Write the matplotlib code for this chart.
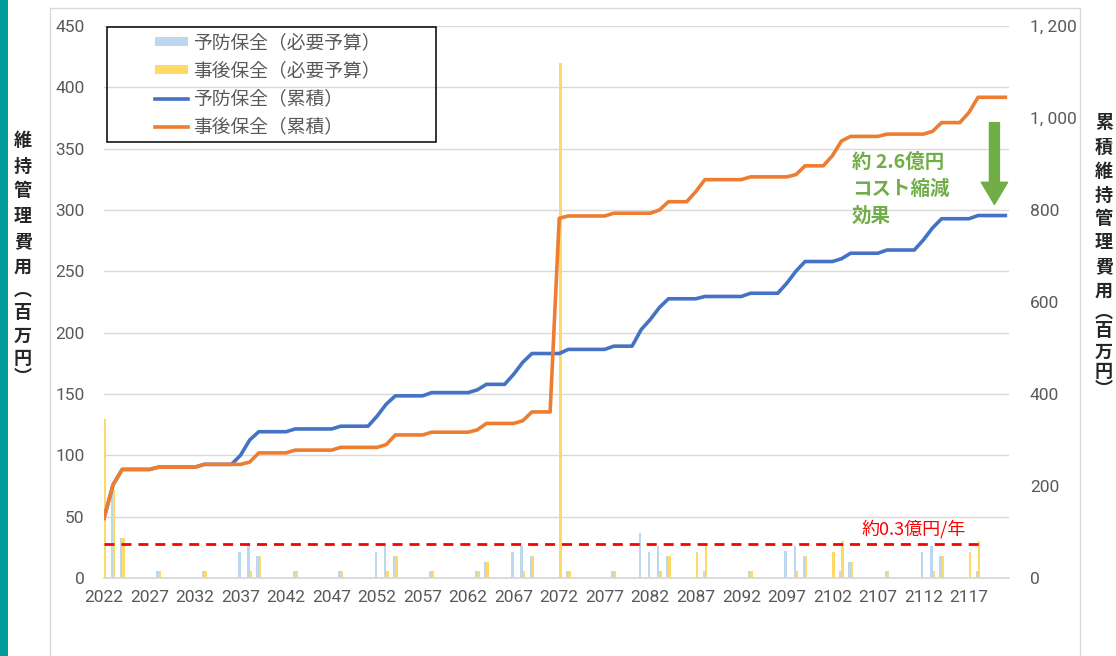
import matplotlib
matplotlib.use('Agg')
import matplotlib.pyplot as plt
from matplotlib.patches import Rectangle, Patch
from matplotlib.lines import Line2D
import numpy as np

plt.rcParams['font.family'] = ['Noto Sans CJK JP', 'DejaVu Sans']

# ---------------- data ----------------
years = list(range(2022, 2122))

# annual required budget (left axis, 百万円)
prev_bar_years = [2022, 2023, 2024, 2028, 2033, 2037, 2038, 2039, 2043, 2048, 2052, 2053, 2054,
                  2058, 2063, 2064, 2067, 2068, 2069, 2073, 2078, 2081, 2082, 2083, 2084, 2088,
                  2093, 2097, 2098, 2099, 2103, 2104, 2108, 2112, 2113, 2114, 2118]
prev_bar_vals = [130, 72, 33, 6, 6, 21.5, 26, 18, 6, 6, 21.5, 26, 18,
                 6, 6, 13, 21.5, 26, 18, 6, 6, 36.5, 21.5, 26, 18, 6,
                 6, 22, 26, 18, 6, 13, 6, 21.5, 26, 18, 6]
corr_bar_years = [2022, 2023, 2024, 2028, 2033, 2038, 2039, 2043, 2048, 2053, 2054, 2058, 2063,
                  2064, 2068, 2069, 2072, 2073, 2078, 2083, 2084, 2087, 2088, 2093, 2098, 2099,
                  2102, 2103, 2104, 2108, 2113, 2114, 2117, 2118]
corr_bar_vals = [130, 72, 33, 6, 6, 6, 18, 6, 6, 6, 18, 6, 6,
                 13, 6, 18, 420, 6, 6, 6, 18, 21, 26, 6, 6, 18,
                 21, 30, 13, 6, 6, 18, 21, 30]

# cumulative cost (right axis, 百万円)
prev_cum = [130, 203, 236, 236, 236, 236, 241, 241, 241, 241,   # 2022-2031
            241, 247, 247, 247, 247, 267, 300, 318, 318, 318,   # 2032-2041
            318, 324, 324, 324, 324, 324, 330, 330, 330, 330,   # 2042-2051
            352, 378, 396, 396, 396, 396, 403, 403, 403, 403,   # 2052-2061
            403, 409, 421, 421, 421, 443, 469, 488, 488, 488,   # 2062-2071
            488, 497, 497, 497, 497, 497, 504, 504, 504, 540,   # 2072-2081
            562, 588, 607, 607, 607, 607, 612, 612, 612, 612,   # 2082-2091
            612, 619, 619, 619, 619, 641, 667, 688, 688, 688,   # 2092-2101
            688, 694, 706, 706, 706, 706, 713, 713, 713, 713,   # 2102-2111
            735, 761, 781, 781, 781, 781, 788, 788, 788, 788]   # 2112-2121
corr_cum = [130, 203, 236, 236, 236, 236, 241, 241, 241, 241,   # 2022-2031
            241, 247, 247, 247, 247, 247, 252, 272, 272, 272,   # 2032-2041
            272, 278, 278, 278, 278, 278, 284, 284, 284, 284,   # 2042-2051
            284, 290, 311, 311, 311, 311, 317, 317, 317, 317,   # 2052-2061
            317, 322, 336, 336, 336, 336, 342, 361, 361, 361,   # 2062-2071
            782, 787, 787, 787, 787, 787, 793, 793, 793, 793,   # 2072-2081
            793, 800, 818, 818, 818, 840, 866, 866, 866, 866,   # 2082-2091
            866, 872, 872, 872, 872, 872, 877, 896, 896, 896,   # 2092-2101
            918, 950, 960, 960, 960, 960, 965, 965, 965, 965,   # 2102-2111
            965, 971, 990, 990, 990, 1012, 1045, 1045, 1045, 1045]  # 2112-2121

avg_level = 27.5          # 約0.3億円/年
avg_span = (2022, 2118.6)

left_ticks = list(range(0, 451, 50))
right_ticks = list(range(0, 1201, 200))
right_tick_labels = ['0', '200', '400', '600', '800', '1, 000', '1, 200']
x_ticks = list(range(2022, 2118, 5))

legend_labels = ['予防保全（必要予算）', '事後保全（必要予算）', '予防保全（累積）', '事後保全（累積）']

# ---------------- style ----------------
C_PREV_BAR = '#BDD7EE'
C_CORR_BAR = '#FFD966'
C_PREV_LINE = '#4472C4'
C_CORR_LINE = '#ED7D31'
C_GREEN = '#70AD47'
C_TICK = '#595959'
C_GRID = '#D9D9D9'

W, H = 1116, 656
fig = plt.figure(figsize=(W / 100, H / 100), dpi=100)

def fx(px):
    return px / W

def fy(py):
    return 1 - py / H

# teal strip and outer chart frame
fig.add_artist(Rectangle((0, 0), fx(8), 1, transform=fig.transFigure,
                         facecolor='#009A9A', edgecolor='none', zorder=-5))
fig.add_artist(Rectangle((fx(50), fy(700)), fx(1030), fy(8) - fy(700), transform=fig.transFigure,
                         facecolor='none', edgecolor=C_GRID, lw=1, zorder=-4))

L, R, T, B = 104, 1009, 26, 578
ax = fig.add_axes([fx(L), fy(B), fx(R - L), fy(T) - fy(B)])
ax.set_facecolor('none')

bw = 0.26
ax.bar(np.array(prev_bar_years) - bw / 2, prev_bar_vals, width=bw, color=C_PREV_BAR, zorder=2)
ax.bar(np.array(corr_bar_years) + bw / 2, corr_bar_vals, width=bw, color=C_CORR_BAR, zorder=2)
ax.plot(avg_span, [avg_level, avg_level], color='#FF0000', lw=2,
        linestyle=(0, (3.6, 2.5)), zorder=3)

ax.set_xlim(2022, 2121.4)
ax.set_ylim(0, 450)
ax.set_yticks(left_ticks)
ax.set_xticks(x_ticks)
ax.set_xticklabels([str(y) for y in x_ticks])
ax.grid(axis='y', color=C_GRID, lw=1, zorder=0)
ax.set_axisbelow(True)
for s in ['top', 'right', 'left']:
    ax.spines[s].set_visible(False)
ax.spines['bottom'].set_color(C_GRID)
ax.spines['bottom'].set_linewidth(1.3)
ax.tick_params(axis='both', length=0, labelcolor=C_TICK, labelsize=12.5)
ax.tick_params(axis='y', pad=14)
ax.tick_params(axis='x', pad=9)
for lab in ax.get_xticklabels() + ax.get_yticklabels():
    lab.set_fontfamily(['Roboto', 'DejaVu Sans'])

ax2 = ax.twinx()
ax2.plot(years, prev_cum, color=C_PREV_LINE, lw=2.6, solid_joinstyle='round', zorder=3)
ax2.plot(years, corr_cum, color=C_CORR_LINE, lw=2.6, solid_joinstyle='round', zorder=4)
ax2.set_ylim(0, 1200)
ax2.set_yticks(right_ticks)
ax2.set_yticklabels(right_tick_labels)
for s in ['top', 'right', 'left', 'bottom']:
    ax2.spines[s].set_visible(False)
ax2.tick_params(axis='y', length=0, labelcolor=C_TICK, labelsize=12.5, pad=15)
for lab in ax2.get_yticklabels():
    lab.set_fontfamily(['Roboto', 'DejaVu Sans'])

# annotation arrow and text
ax2.annotate('', xy=(2119.8, 812), xytext=(2119.8, 990),
             arrowprops=dict(arrowstyle='simple,head_length=0.8,head_width=0.95,tail_width=0.36',
                             mutation_scale=20, color=C_GREEN, shrinkA=0, shrinkB=0))
for i, line in enumerate(['約 2.6億円', 'コスト縮減', '効果']):
    fig.text(fx(852), fy(162 + 27 * i), line, color=C_GREEN, fontsize=14, fontweight='bold',
             ha='left', va='center')
fig.text(fx(862), fy(529), '約0.3億円/年', color='#FF0000', fontsize=13, ha='left', va='center')

# legend
handles = [Patch(facecolor=C_PREV_BAR, edgecolor='none'),
           Patch(facecolor=C_CORR_BAR, edgecolor='none'),
           Line2D([], [], color=C_PREV_LINE, lw=2.6),
           Line2D([], [], color=C_CORR_LINE, lw=2.6)]
leg = fig.legend(handles, legend_labels, loc='upper left', bbox_to_anchor=(fx(155), fy(32)),
                 frameon=False, fontsize=13.5, handlelength=1.75, handleheight=0.4,
                 handletextpad=0.27, labelspacing=0.38, borderpad=0, borderaxespad=0)
for t in leg.get_texts():
    t.set_color(C_TICK)
fig.add_artist(Rectangle((fx(107), fy(142)), fx(436 - 107), fy(27) - fy(142),
                         transform=fig.transFigure, facecolor='none', edgecolor='black', lw=1.1,
                         zorder=5))

# vertical axis titles (stacked characters)
left_chars = ['維', '持', '管', '理', '費', '用', '︵', '百', '万', '円', '︶']
left_pos = [141, 166, 191, 216, 242, 267, 290, 312, 336, 359, 377]
for ch, py in zip(left_chars, left_pos):
    fig.text(fx(23), fy(py), ch, fontsize=13, fontweight='bold', color='#262626',
             ha='center', va='center')
right_chars = ['累', '積', '維', '持', '管', '理', '費', '用', '︵', '百', '万', '円', '︶']
right_pos = [123, 147, 171, 195, 219, 243, 267, 291, 312, 331, 352, 372, 389]
for ch, py in zip(right_chars, right_pos):
    fig.text(fx(1104), fy(py), ch, fontsize=13, fontweight='bold', color='#262626',
             ha='center', va='center')

fig.savefig('out.png', dpi=100)
